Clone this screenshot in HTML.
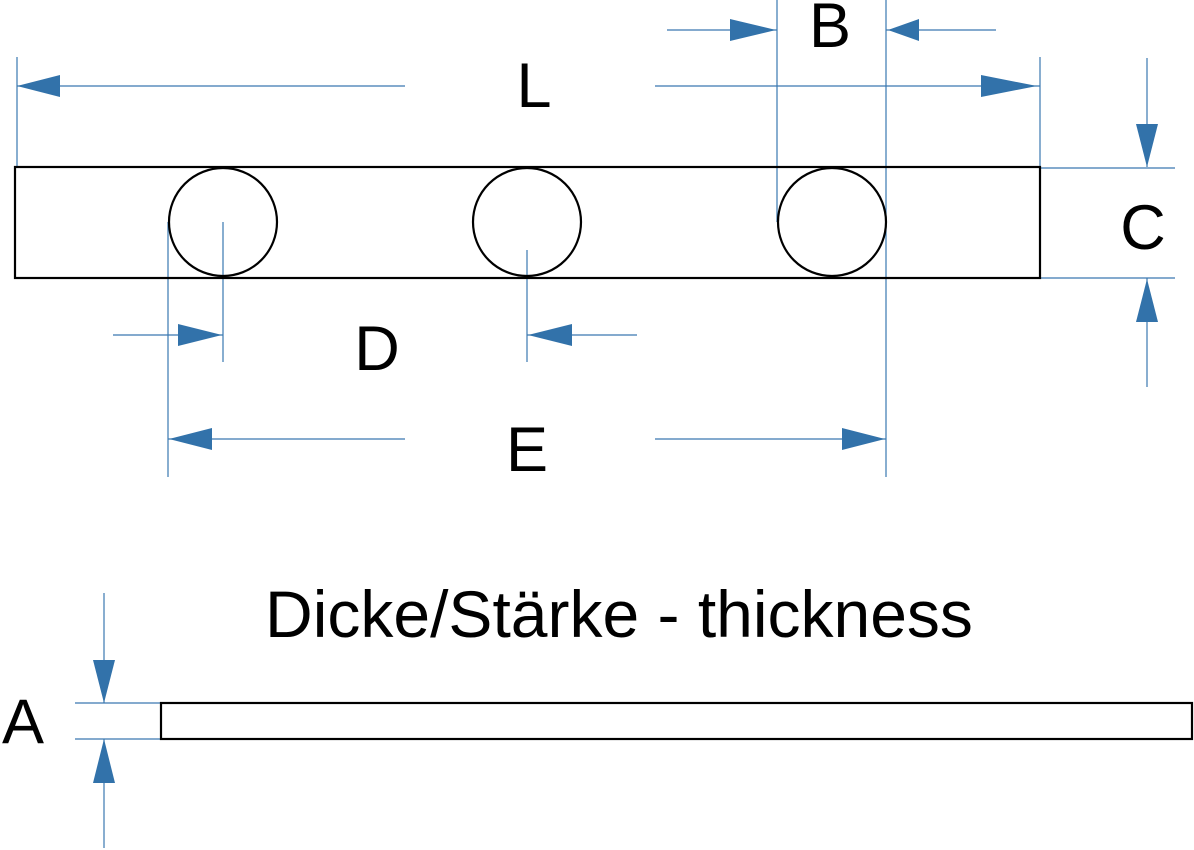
<!DOCTYPE html>
<html><head><style>html,body{margin:0;padding:0;background:#fff}svg{display:block}text{font-family:"Liberation Sans",Arial,sans-serif;fill:#000}</style></head>
<body>
<svg width="1194" height="850" viewBox="0 0 1194 850" xmlns="http://www.w3.org/2000/svg">
<g stroke="#3a78b0" stroke-width="1.2" fill="none">
<line x1="17" y1="57" x2="17" y2="167"/>
<line x1="17" y1="86" x2="405" y2="86"/>
<line x1="655" y1="86" x2="1040" y2="86"/>
<line x1="1040" y1="57" x2="1040" y2="167"/>
<line x1="777" y1="0" x2="777" y2="222"/>
<line x1="886" y1="0" x2="886" y2="477"/>
<line x1="667" y1="30" x2="777" y2="30"/>
<line x1="886" y1="30" x2="996" y2="30"/>
<line x1="1147" y1="58" x2="1147" y2="167"/>
<line x1="1147" y1="278" x2="1147" y2="387"/>
<line x1="1040" y1="168" x2="1175" y2="168"/>
<line x1="1040" y1="278" x2="1175" y2="278"/>
<line x1="168" y1="222" x2="168" y2="477"/>
<line x1="223" y1="222" x2="223" y2="362"/>
<line x1="527" y1="250" x2="527" y2="362"/>
<line x1="113" y1="335" x2="223" y2="335"/>
<line x1="527" y1="335" x2="637" y2="335"/>
<line x1="168" y1="439" x2="405" y2="439"/>
<line x1="655" y1="439" x2="886" y2="439"/>
<line x1="104" y1="593" x2="104" y2="703"/>
<line x1="104" y1="739" x2="104" y2="848"/>
<line x1="75" y1="703" x2="161" y2="703"/>
<line x1="75" y1="739" x2="161" y2="739"/>
</g>
<g fill="#3272aa">
<polygon points="17,86 60,75 60,97"/>
<polygon points="1037,86 981,75 981,97"/>
<polygon points="776,30 730,19 730,41"/>
<polygon points="888,30 919,19 919,41"/>
<polygon points="1147,167 1136,124 1158,124"/>
<polygon points="1147,279 1136,322 1158,322"/>
<polygon points="222,335 178,324 178,346"/>
<polygon points="528,335 572,324 572,346"/>
<polygon points="169,439 212,428 212,450"/>
<polygon points="885,439 842,428 842,450"/>
<polygon points="104,703 93,660 115,660"/>
<polygon points="104,739 93,783 115,783"/>
</g>
<g stroke="#000" stroke-width="2.2" fill="none">
<rect x="15" y="167" width="1025" height="111"/>
<circle cx="223" cy="222" r="54"/>
<circle cx="527" cy="222" r="54"/>
<circle cx="832" cy="222" r="54"/>
<rect x="161" y="703" width="1031" height="36"/>
</g>
<g font-size="63" text-anchor="middle">
<text x="534" y="107">L</text>
<text x="830" y="47">B</text>
<text x="1143" y="249">C</text>
<text x="377" y="370">D</text>
<text x="527" y="471">E</text>
<text x="23" y="743">A</text>
<text x="619" y="637" font-size="66">Dicke/Stärke - thickness</text>
</g>
</svg>
</body></html>
